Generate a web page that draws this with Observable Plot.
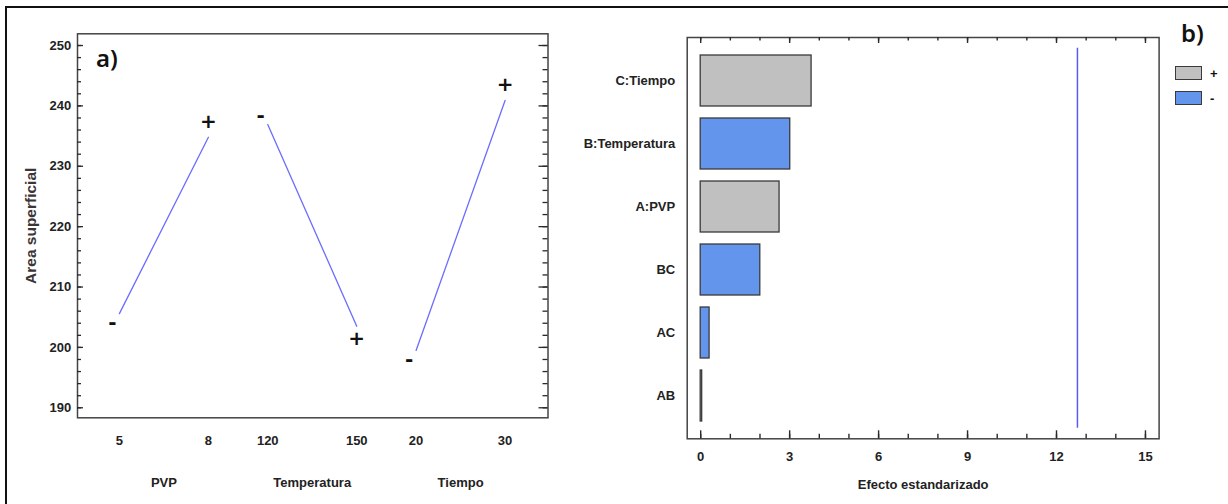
<!DOCTYPE html>
<html>
<head>
<meta charset="utf-8">
<script src="https://cdn.jsdelivr.net/npm/d3@7"></script>
<script src="https://cdn.jsdelivr.net/npm/@observablehq/plot@0.6"></script>
<style>
  body { margin: 0; background: #fff; overflow: hidden; }
  #fig { position: relative; width: 1228px; height: 504px; overflow: hidden; background: #fff;
         font-family: "Liberation Sans", Arial, sans-serif; }
  #border { position: absolute; left: 5px; top: 6px; width: 1260px; height: 540px;
            border-left: 2.5px solid #111; border-top: 2.5px solid #111; }
  #left, #right { position: absolute; top: 0; }
  #left { left: 0; }
  #right { left: 560px; }
  .tag { position: absolute; font-family: "Noto Sans", "Open Sans", sans-serif; font-size: 24px;
         font-weight: 600; color: #111; line-height: 1; }
  #legend { position: absolute; left: 1175px; top: 65px; font-weight: bold; font-size: 13px; color: #111; }
  .item { display: flex; align-items: center; height: 16px; margin-bottom: 9px; }
  .sw { width: 25px; height: 12px; border: 1.5px solid #3a3a3a; margin-right: 8px; }
</style>
</head>
<body>
<div id="fig">
  <div id="border"></div>
  <div id="left"></div>
  <div id="right"></div>
  <div class="tag" style="left:96px; top:46px;">a)</div>
  <div class="tag" style="left:1181px; top:21px;">b)</div>
  <div id="legend"></div>
</div>
<script>
// Main effects on Area superficial: mean response at the low and high level of each factor
const factors = ["PVP", "Temperatura", "Tiempo"];
const lowLevels = ["5", "120", "20"];
const highLevels = ["8", "150", "30"];
const lowMeans = [205.6, 236.9, 199.5];
const highMeans = [234.8, 203.5, 240.9];
const yTicks = [190, 200, 210, 220, 230, 240, 250];

// Standardized effects (Pareto chart)
const terms = ["C:Tiempo", "B:Temperatura", "A:PVP", "BC", "AC", "AB"];
const effects = [3.74, 3.02, 2.66, 2.01, 0.30, 0.05];
const signs = ["+", "-", "+", "-", "-", "+"];
const criticalT = 12.706;
const effectTicks = [0, 3, 6, 9, 12, 15];

const signColors = {"+": "#c0c0c0", "-": "#6495ed"};
const font = {
  fontFamily: "'Liberation Sans', Arial, sans-serif",
  fontSize: "13px",
  fontWeight: "bold",
  color: "#1a1a1a",
  background: "transparent"
};
const tickColor = "#2a2a2a";

// ---- Panel a: main effects ----
const W1 = 560, H1 = 504, ml1 = 77, mr1 = 12.5, mt1 = 33.3, mb1 = 86.7;
const fw1 = W1 - ml1 - mr1;
// each factor occupies its own slot on a shared horizontal axis
const slot = 2.5, span = 1.5;
const points = factors.flatMap((f, i) => [
  {factor: f, level: lowLevels[i], sign: "-", pos: i * slot, value: lowMeans[i], up: lowMeans[i] > highMeans[i]},
  {factor: f, level: highLevels[i], sign: "+", pos: i * slot + span, value: highMeans[i], up: highMeans[i] > lowMeans[i]}
]);
const levelAt = new Map(points.map(d => [d.pos, d.level]));

// level markers sit just beyond each end of the effect line
const markerOffset = {"-up": -9, "-down": 9, "+up": -16, "+down": 12};
function signText(sign, up) {
  return Plot.text(points.filter(d => d.sign === sign && d.up === up), {
    x: "pos", y: "value", text: "sign",
    dx: sign === "-" ? -7 : 0, dy: markerOffset[sign + (up ? "up" : "down")],
    fontFamily: "'DejaVu Sans', sans-serif", fontSize: 20, fontWeight: "bold", fill: "#111"
  });
}

const minorY = d3.range(190, 251, 2);
// inward ticks hugging one side of the frame
const sideTicksY = (values, side, len) =>
  Plot.tickY(values, {y: d => d, stroke: tickColor, strokeWidth: 1.3,
    [side === "left" ? "insetRight" : "insetLeft"]: fw1 - len});

const left = Plot.plot({
  width: W1, height: H1,
  marginLeft: ml1, marginRight: mr1, marginTop: mt1, marginBottom: mb1,
  style: font,
  x: {domain: [-0.706, 7.223], label: null},
  y: {domain: [188.34, 251.94], label: null},
  marks: [
    Plot.frame({stroke: "#444", strokeWidth: 1.5}),
    sideTicksY(yTicks, "left", 6),
    sideTicksY(minorY, "left", 4),
    sideTicksY(yTicks, "right", 9),
    sideTicksY(minorY, "right", 5),
    Plot.axisY(yTicks, {anchor: "left", tickSize: 0, tickPadding: 6.3, color: "#222"}),
    Plot.axisX(points.map(d => d.pos), {anchor: "bottom", tickSize: 0, tickPadding: 18,
      tickFormat: d => levelAt.get(d), color: "#222"}),
    Plot.text(factors, {x: (d, i) => i * slot + span / 2, frameAnchor: "bottom", dy: 64.7,
      lineAnchor: "middle", text: d => d, fill: "#222"}),
    Plot.text(["Area superficial"], {frameAnchor: "left", dx: -46, rotate: -90, text: d => d,
      textAnchor: "middle", lineAnchor: "middle", fontSize: 15.5, fill: "#3b3535"}),
    Plot.line(points, {x: "pos", y: "value", z: "factor", stroke: "#6c6cff", strokeWidth: 1.3}),
    signText("-", true), signText("-", false), signText("+", true), signText("+", false)
  ]
});
document.getElementById("left").append(left);

// ---- Panel b: Pareto chart of standardized effects ----
const W2 = 668, H2 = 504, ml2 = 126.7, mr2 = 69.4, mt2 = 37, mb2 = 65.7;
const fh2 = H2 - mt2 - mb2;
const effectData = terms.map((t, i) => ({term: t, value: effects[i], sign: signs[i]}));
const minorX = d3.range(0, 16, 1);
// inward ticks on the top and bottom edges of the frame
const sideTicksX = (values, side, len) =>
  Plot.tickX(values, {x: d => d, stroke: tickColor, strokeWidth: 1.4,
    [side === "top" ? "insetBottom" : "insetTop"]: fh2 - len});

const right = Plot.plot({
  width: W2, height: H2,
  marginLeft: ml2, marginRight: mr2, marginTop: mt2, marginBottom: mb2,
  style: font,
  x: {domain: [-0.455, 15.46], label: null},
  y: {domain: terms, label: null, paddingInner: 0.19, paddingOuter: 0.095, insetTop: 10.7, insetBottom: 10.6},
  color: {domain: Object.keys(signColors), range: Object.values(signColors)},
  marks: [
    Plot.frame({stroke: "#444", strokeWidth: 1.5}),
    sideTicksX(effectTicks, "top", 6),
    sideTicksX(minorX, "top", 3.5),
    sideTicksX(effectTicks, "bottom", 8),
    sideTicksX(minorX, "bottom", 4.5),
    Plot.barX(effectData, {x: "value", y: "term", fill: "sign", stroke: "#3a3a3a", strokeWidth: 1.3}),
    Plot.ruleX([criticalT], {stroke: "#5a5af5", strokeWidth: 1.5, insetTop: 10.7, insetBottom: 10.6}),
    Plot.axisY({anchor: "left", tickSize: 0, tickPadding: 12, color: "#222"}),
    Plot.axisX(effectTicks, {anchor: "bottom", tickSize: 0, tickPadding: 13, color: "#222"}),
    Plot.text(["Efecto estandarizado"], {frameAnchor: "bottom", dy: 46, lineAnchor: "middle",
      text: d => d, fill: "#222"})
  ]
});
document.getElementById("right").append(right);

// sign legend
const legend = d3.select("#legend");
for (const s of Object.keys(signColors)) {
  const item = legend.append("div").attr("class", "item");
  item.append("div").attr("class", "sw").style("background", signColors[s]);
  item.append("span").text(s);
}
</script>
</body>
</html>
